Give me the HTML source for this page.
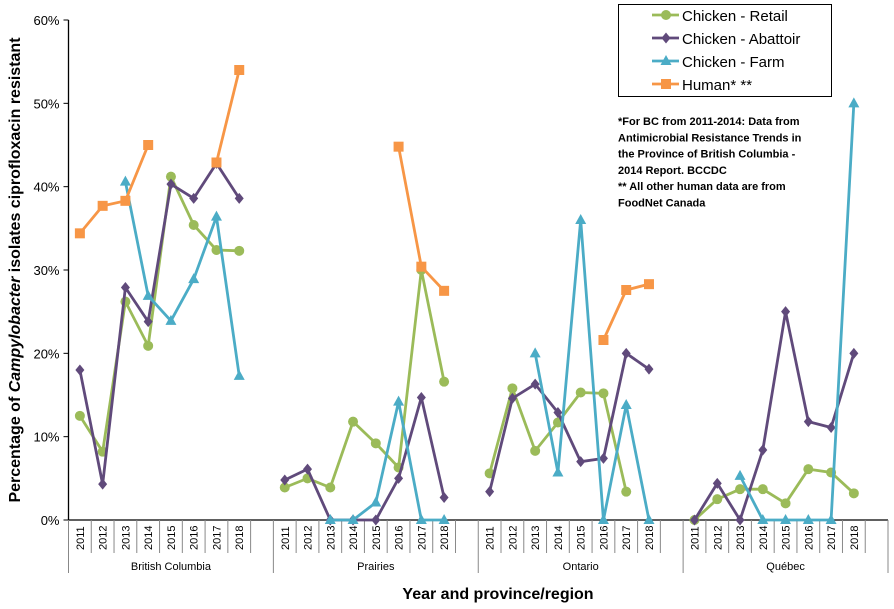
<!DOCTYPE html>
<html><head><meta charset="utf-8"><style>
body{margin:0;background:#fff;font-family:"Liberation Sans",Arial,sans-serif}
svg{display:block}
</style></head><body>
<svg id="chart" width="894" height="609" xmlns="http://www.w3.org/2000/svg"></svg>
<script>
const regions = ["British Columbia","Prairies","Ontario","Québec"];
const years = ["2011","2012","2013","2014","2015","2016","2017","2018"];
const yTicks = [0,10,20,30,40,50,60];
const retail = [
 [12.5,8.2,26.2,20.9,41.2,35.4,32.4,32.3],
 [3.9,5.0,3.9,11.8,9.2,6.3,30.0,16.6],
 [5.6,15.8,8.3,11.7,15.3,15.2,3.4,null],
 [0,2.5,3.7,3.7,2.0,6.1,5.7,3.2]];
const abattoir = [
 [18,4.3,27.9,23.8,40.3,38.6,42.8,38.6],
 [4.8,6.1,0,0,0,5.0,14.7,2.7],
 [3.4,14.6,16.3,12.9,7.0,7.4,20.0,18.1],
 [0,4.4,0,8.4,25.0,11.8,11.1,20.0]];
const farm = [
 [null,null,40.6,26.9,23.9,28.9,36.4,17.3],
 [null,null,0,0,2.1,14.2,0,0],
 [null,null,20.0,5.7,36.0,0,13.8,0],
 [null,null,5.3,0,0,0,0,50.0]];
const human = [
 [34.4,37.7,38.3,45.0,null,null,42.9,54.0],
 [null,null,null,null,null,44.8,30.4,27.5],
 [null,null,null,null,null,21.6,27.6,28.3],
 [null,null,null,null,null,null,null,null]];

const NS="http://www.w3.org/2000/svg";
const svg=document.getElementById('chart');
const X0=68.5,X1=888,Y0=520,Y1=20,slot=(X1-X0)/36;
const xs=(r,i)=>X0+(r*9+i+0.5)*slot;
const ys=v=>Y0-(v/60)*(Y0-Y1);
function el(t,a,p){const e=document.createElementNS(NS,t);for(const k in a)e.setAttribute(k,a[k]);(p||svg).appendChild(e);return e;}

// y axis
const ya=el('g',{});


el('line',{x1:X0,y1:Y1,x2:X0,y2:Y0,stroke:'#000','stroke-width':1.3},ya);
yTicks.forEach(t=>{
 const y=ys(t);
 el('line',{x1:X0-5,y1:y,x2:X0,y2:y,stroke:'#000'},ya);
 const tx=el('text',{x:X0-9,y:y+5,'text-anchor':'end','font-size':13},ya);
 
 
 tx.textContent=t+'%';
});
// x axis
const xa=el('g',{});


el('line',{x1:X0,y1:Y0,x2:X1,y2:Y0,stroke:'#000','stroke-width':1.3},xa);
for(let s=0;s<=36;s++){
 const x=X0+s*slot;
 const big=s%9==0;
 el('line',{x1:x,y1:Y0,x2:x,y2:big?573:553,stroke:'#888'},xa);
}
regions.forEach((rn,r)=>{
 years.forEach((yr,i)=>{
  const x=xs(r,i);
  const t=el('text',{x:0,y:0,transform:`translate(${x+4},550) rotate(-90)`,'font-size':11},xa);
  
  
  t.textContent=yr;
 });
 const t=el('text',{x:X0+(r*9+4.5)*slot,y:570,'text-anchor':'middle','font-size':11},xa);
 
 
 t.textContent=rn;
});
const xt=el('text',{x:498,y:599,'text-anchor':'middle','font-size':16,'font-weight':'bold'});


xt.textContent='Year and province/region';
const yt=el('text',{x:0,y:0,transform:'translate(20,270) rotate(-90)','text-anchor':'middle','font-size':16,'font-weight':'bold'});


yt.innerHTML='Percentage of <tspan font-style="italic">Campylobacter</tspan> isolates ciprofloxacin resistant';

function marker(g,type,x,y,c){
 if(type=='circle')return el('circle',{cx:x,cy:y,r:5,fill:c},g);
 if(type=='diamond')return el('polygon',{points:`${x},${y-5.5} ${x+4.5},${y} ${x},${y+5.5} ${x-4.5},${y}`,fill:c},g);
 if(type=='tri')return el('polygon',{points:`${x},${y-6} ${x+5.5},${y+4} ${x-5.5},${y+4}`,fill:c},g);
 return el('rect',{x:x-5,y:y-5,width:10,height:10,fill:c},g);
}
function series(name,data,c,type){
 const g=el('g',{});
 
 
 data.forEach((arr,r)=>{
  let seg=[];
  const flush=()=>{if(seg.length>1)el('polyline',{points:seg.join(' '),fill:'none',stroke:c,'stroke-width':2.8},g);seg=[];};
  arr.forEach((v,i)=>{if(v==null){flush();return;}seg.push(xs(r,i)+','+ys(v));});
  flush();
  arr.forEach((v,i)=>{if(v==null)return;const m=marker(g,type,xs(r,i),ys(v),c);
   
   });
 });
}
series('retail-series',retail,'#9BBB59','circle');
series('abattoir-series',abattoir,'#604A7B','diamond');
series('farm-series',farm,'#4BACC6','tri');
series('human-series',human,'#F79646','square');

// legend
const lg=el('g',{});


el('rect',{x:618.5,y:4.5,width:213,height:92,fill:'#fff',stroke:'#000'},lg);
[['Chicken - Retail','#9BBB59','circle'],['Chicken - Abattoir','#604A7B','diamond'],['Chicken - Farm','#4BACC6','tri'],['Human*  **','#F79646','square']].forEach((d,i)=>{
 const y=15+i*23;
 const e=el('g',{},lg);
 
 
 el('line',{x1:652,y1:y,x2:679,y2:y,stroke:d[1],'stroke-width':2.8},e);
 marker(e,d[2],666,y,d[1]);
 const t=el('text',{x:682,y:y+6,'font-size':15},e);
 t.textContent=d[0];
});
const note=el('text',{x:618,y:125,'font-size':11,'font-weight':'bold'});


['*For BC from 2011-2014: Data from','Antimicrobial Resistance Trends in','the Province of British Columbia -','2014 Report. BCCDC','** All other human data are from','FoodNet Canada'].forEach((l,i)=>{
 const ts=el('tspan',{x:618,dy:i?16.3:0},note);ts.textContent=l;
});
</script>
</body></html>
